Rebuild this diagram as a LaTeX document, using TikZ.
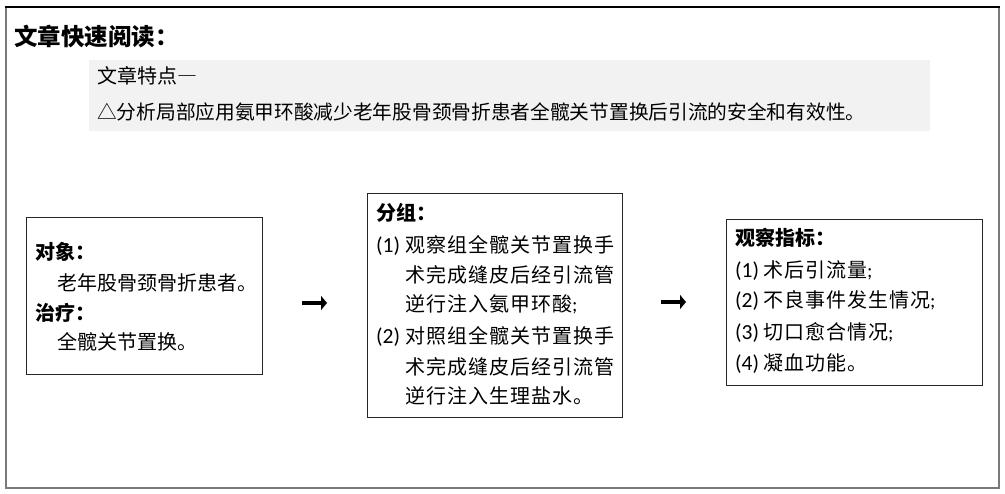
\documentclass[tikz,border=0pt]{standalone}
\usepackage{fontspec}
\setmainfont{Carlito}
\newfontfamily\cjk{Noto Sans CJK SC}
\newfontfamily\cjkw[LetterSpace=5]{Noto Sans CJK SC}
\newfontfamily\latn{Carlito}
\usetikzlibrary{arrows.meta}
\definecolor{panel}{HTML}{F1F2F1}
\definecolor{framegray}{HTML}{7A7A7A}
\tikzset{
  box/.style={draw=black!85,line width=0.9pt,fill=white,inner sep=0pt},
  txt/.style={anchor=base west,inner sep=0pt,font=\fontsize{20}{20}\selectfont},
  num/.style={anchor=base west,inner sep=0pt,font=\fontsize{21.5}{21.5}\selectfont\latn},
  head/.style={anchor=base west,inner sep=0pt,font=\fontsize{20}{20}\selectfont\bfseries\cjk},
  arr/.style={line width=4.5pt,-{Triangle[length=6pt,width=14pt]}}
}
\begin{document}
\begin{tikzpicture}[x=1pt,y=-1pt]
\useasboundingbox (0,0) rectangle (1005,494);
\fill[white] (0,0) rectangle (1005,494);
% outer frame
\draw[framegray,line width=1.6pt] (6,7) rectangle (999,488);
\draw[black,line width=1.4pt] (5.2,7) -- (999.8,7);
% title
\node[anchor=base west,inner sep=0pt,font=\fontsize{23.5}{23.5}\selectfont\bfseries\cjk] (title) at (14,45.5) {文章快速阅读：};
% feature panel
\node[fill=panel,inner sep=0pt,minimum width=841pt,minimum height=71pt] (panel) at (509.5,95.5) {};
\node[txt,font=\fontsize{20}{20}\selectfont\cjk] (f1) at (97,83.5) {文章特点{\addfontfeature{CharacterWidth=Full}—}};
\node[txt,font=\fontsize{19.7}{19.7}\selectfont\cjk] (f2) at (97,120) {△分析局部应用氨甲环酸减少老年股骨颈骨折患者全髋关节置换后引流的安全和有效性。};
% boxes
\node[box,minimum width=236pt,minimum height=157pt] (left) at (144,295.5) {};
\node[box,minimum width=255pt,minimum height=224pt] (mid) at (494.5,305) {};
\node[box,minimum width=256pt,minimum height=166pt] (right) at (854,302) {};
% left text
\node[head] (l1) at (35,259.4) {对象：};
\node[txt] (l2) at (57,291) {\cjk 老年股骨颈骨折患者。};
\node[head] (l3) at (35,320.4) {治疗：};
\node[txt] (l4) at (57,349.4) {\cjk 全髋关节置换。};
% middle text
\node[head] (m0) at (376,220.4) {分组：};
\node[num] (m1a) at (376,252.4) {(1)};
\node[txt] (m1) at (405,252.4) {\cjkw 观察组全髋关节置换手};
\node[txt] (m2) at (405,282.4) {\cjkw 术完成缝皮后经引流管};
\node[txt] (m3) at (405,311.4) {\cjkw 逆行注入氨甲环酸\latn;};
\node[num] (m4a) at (376,343.4) {(2)};
\node[txt] (m4) at (405,343.4) {\cjkw 对照组全髋关节置换手};
\node[txt] (m5) at (405,374.4) {\cjkw 术完成缝皮后经引流管};
\node[txt] (m6) at (405,403.4) {\cjkw 逆行注入生理盐水。};
% right text
\node[head] (r0) at (735,245.4) {观察指标：};
\node[num] (r1a) at (735,277.4) {(1)};
\node[txt] (r1) at (763,277.4) {\cjkw 术后引流量\latn;};
\node[num] (r2a) at (735,307.4) {(2)};
\node[txt] (r2) at (763,307.4) {\cjkw 不良事件发生情况\latn;};
\node[num] (r3a) at (735,339.4) {(3)};
\node[txt] (r3) at (763,339.4) {\cjkw 切口愈合情况\latn;};
\node[num] (r4a) at (735,370.4) {(4)};
\node[txt] (r4) at (763,370.4) {\cjkw 凝血功能。};
% arrows
\coordinate (a1s) at (302,303);
\coordinate (a1e) at (327,303);
\coordinate (a2s) at (661,302);
\coordinate (a2e) at (686,302);
\draw[arr] (a1s) -- (a1e);
\draw[arr] (a2s) -- (a2e);
\end{tikzpicture}
\end{document}
